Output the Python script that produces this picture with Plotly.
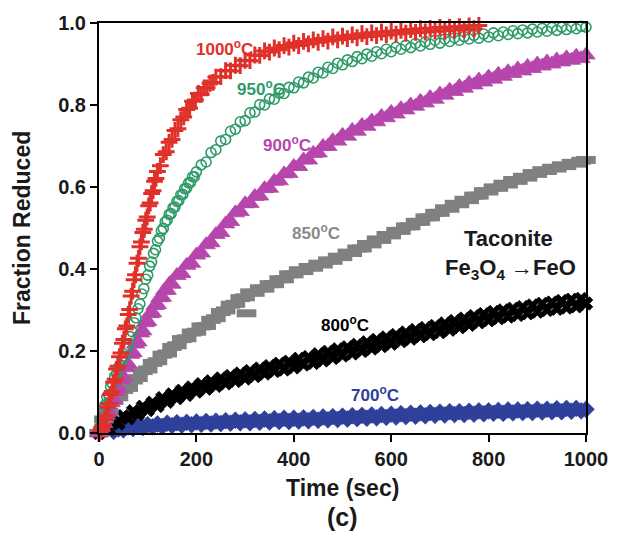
import plotly.graph_objects as go

# ---- data ----
t_1000 = list(range(0, 121, 3)) + list(range(126, 241, 6)) + list(range(250, 781, 10))
f_1000 = [0.000, 0.004, 0.012, 0.018, 0.033, 0.042, 0.063, 0.072, 0.094, 0.101,
          0.124, 0.131, 0.156, 0.163, 0.186, 0.195, 0.219, 0.228, 0.254, 0.261,
          0.289, 0.301, 0.334, 0.346, 0.374, 0.386, 0.414, 0.426, 0.454, 0.466,
          0.489, 0.497, 0.519, 0.527, 0.554, 0.561, 0.584, 0.591, 0.614, 0.621, 0.638,
          0.652, 0.679, 0.686, 0.709, 0.716, 0.738, 0.742, 0.764, 0.771, 0.789,
          0.792, 0.809, 0.812, 0.828, 0.826, 0.842, 0.842, 0.853, 0.855, 0.868,
          0.869, 0.884, 0.883, 0.897, 0.896, 0.909, 0.908, 0.922, 0.921, 0.932,
          0.929, 0.939, 0.935, 0.945, 0.941, 0.951, 0.945, 0.955, 0.949, 0.959,
          0.953, 0.962, 0.956, 0.966, 0.959, 0.968, 0.962, 0.971, 0.964, 0.974,
          0.967, 0.976, 0.969, 0.978, 0.971, 0.980, 0.973, 0.982, 0.975, 0.984,
          0.977, 0.986, 0.978, 0.987, 0.980, 0.989, 0.981, 0.990, 0.983, 0.991,
          0.984, 0.993, 0.986, 0.994]

t_950 = list(range(0, 201, 4)) + list(range(210, 1001, 10))
f_950 = [0.012, 0.033, 0.057, 0.068, 0.088, 0.094, 0.113, 0.119, 0.138, 0.144,
         0.161, 0.165, 0.181, 0.187, 0.206, 0.214, 0.235, 0.247, 0.269, 0.281,
         0.303, 0.315, 0.339, 0.352, 0.375, 0.385, 0.407, 0.417, 0.438, 0.447,
         0.468, 0.475, 0.493, 0.499, 0.515, 0.519, 0.533, 0.535, 0.549, 0.551,
         0.565, 0.567, 0.581, 0.582, 0.596, 0.597, 0.610, 0.611, 0.625, 0.625, 0.637,
         0.654, 0.661, 0.684, 0.691, 0.712, 0.716, 0.736, 0.741, 0.759, 0.762,
         0.781, 0.783, 0.801, 0.800, 0.815, 0.814, 0.829, 0.828, 0.843, 0.842,
         0.856, 0.854, 0.868, 0.866, 0.880, 0.878, 0.892, 0.889, 0.902, 0.898,
         0.910, 0.906, 0.918, 0.913, 0.924, 0.919, 0.930, 0.925, 0.936, 0.930,
         0.941, 0.936, 0.946, 0.940, 0.950, 0.944, 0.954, 0.948, 0.958, 0.951,
         0.961, 0.955, 0.964, 0.958, 0.967, 0.961, 0.970, 0.963, 0.973, 0.966,
         0.976, 0.969, 0.978, 0.972, 0.981, 0.974, 0.983, 0.976, 0.985, 0.978,
         0.987, 0.980, 0.989, 0.982, 0.990, 0.984, 0.991, 0.986, 0.992, 0.990]

t_900 = list(range(0, 151, 5)) + list(range(160, 1001, 10))
f_900 = [0.000, 0.014, 0.023, 0.043, 0.052, 0.074, 0.082, 0.101, 0.109, 0.130,
         0.137, 0.159, 0.168, 0.192, 0.196, 0.217, 0.222, 0.244, 0.249, 0.269,
         0.272, 0.291, 0.293, 0.311, 0.313, 0.330, 0.331, 0.348, 0.348, 0.364, 0.363,
         0.384, 0.389, 0.409, 0.414, 0.434, 0.439, 0.459, 0.464, 0.484, 0.489,
         0.510, 0.516, 0.537, 0.540, 0.559, 0.560, 0.577, 0.578, 0.596, 0.597,
         0.614, 0.615, 0.632, 0.633, 0.650, 0.650, 0.666, 0.666, 0.682, 0.683,
         0.699, 0.699, 0.713, 0.712, 0.726, 0.724, 0.738, 0.736, 0.750, 0.748,
         0.761, 0.759, 0.772, 0.769, 0.782, 0.778, 0.791, 0.788, 0.800, 0.797,
         0.809, 0.805, 0.818, 0.814, 0.827, 0.824, 0.836, 0.833, 0.845, 0.841,
         0.853, 0.849, 0.861, 0.856, 0.868, 0.863, 0.875, 0.870, 0.881, 0.877,
         0.888, 0.883, 0.894, 0.889, 0.900, 0.895, 0.905, 0.900, 0.910, 0.905,
         0.915, 0.909, 0.919, 0.913, 0.922]

t_850 = list(range(0, 1001, 10)) + [303]
f_850 = [0.000, 0.033, 0.052, 0.078, 0.087, 0.105, 0.110, 0.128, 0.134, 0.151,
         0.155, 0.171, 0.175, 0.191, 0.194, 0.210, 0.214, 0.229, 0.231, 0.245,
         0.247, 0.260, 0.261, 0.276, 0.280, 0.295, 0.299, 0.313, 0.315, 0.329,
         0.331, 0.343, 0.342, 0.353, 0.352, 0.363, 0.363, 0.375, 0.375, 0.387,
         0.387, 0.397, 0.395, 0.405, 0.403, 0.413, 0.411, 0.421, 0.420, 0.430,
         0.429, 0.440, 0.439, 0.450, 0.450, 0.461, 0.460, 0.472, 0.471, 0.483,
         0.482, 0.493, 0.493, 0.504, 0.504, 0.515, 0.515, 0.526, 0.526, 0.537,
         0.537, 0.548, 0.547, 0.559, 0.558, 0.569, 0.568, 0.579, 0.579, 0.590,
         0.589, 0.599, 0.598, 0.608, 0.606, 0.617, 0.615, 0.625, 0.623, 0.634,
         0.632, 0.641, 0.639, 0.647, 0.645, 0.653, 0.651, 0.659, 0.657, 0.664,
         0.666, 0.292]

t_800 = list(range(0, 1001, 10))
f_800 = [0.000, 0.008, 0.010, 0.026, 0.023, 0.041, 0.036, 0.053, 0.046, 0.064,
         0.056, 0.074, 0.066, 0.085, 0.076, 0.094, 0.085, 0.103, 0.093, 0.111,
         0.101, 0.119, 0.108, 0.126, 0.115, 0.133, 0.121, 0.139, 0.127, 0.145,
         0.133, 0.151, 0.139, 0.157, 0.145, 0.163, 0.151, 0.169, 0.155, 0.174,
         0.160, 0.181, 0.167, 0.185, 0.171, 0.192, 0.177, 0.198, 0.183, 0.204,
         0.189, 0.209, 0.194, 0.215, 0.200, 0.221, 0.206, 0.227, 0.212, 0.233,
         0.218, 0.239, 0.224, 0.245, 0.230, 0.251, 0.236, 0.256, 0.241, 0.261,
         0.246, 0.267, 0.252, 0.273, 0.258, 0.279, 0.264, 0.285, 0.270, 0.290,
         0.275, 0.295, 0.280, 0.299, 0.284, 0.303, 0.288, 0.307, 0.292, 0.311,
         0.296, 0.315, 0.300, 0.318, 0.303, 0.322, 0.306, 0.325, 0.309, 0.327,
         0.316]

t_700 = list(range(30, 1001, 10))
f_700 = [0.004, 0.010, 0.008, 0.015, 0.011, 0.018, 0.013, 0.020, 0.015, 0.022,
         0.016, 0.024, 0.018, 0.025, 0.019, 0.026, 0.020, 0.027, 0.021, 0.028,
         0.022, 0.029, 0.023, 0.030, 0.024, 0.031, 0.025, 0.032, 0.025, 0.033,
         0.026, 0.034, 0.027, 0.035, 0.028, 0.036, 0.028, 0.036, 0.029, 0.037,
         0.030, 0.038, 0.031, 0.039, 0.032, 0.040, 0.033, 0.041, 0.034, 0.042,
         0.035, 0.043, 0.036, 0.044, 0.037, 0.045, 0.038, 0.046, 0.039, 0.047,
         0.040, 0.048, 0.041, 0.049, 0.042, 0.050, 0.043, 0.051, 0.044, 0.052,
         0.045, 0.052, 0.045, 0.053, 0.046, 0.054, 0.047, 0.054, 0.048, 0.055,
         0.048, 0.056, 0.049, 0.056, 0.050, 0.057, 0.050, 0.058, 0.051, 0.058,
         0.052, 0.059, 0.052, 0.060, 0.053, 0.060, 0.054, 0.058]

x_ticks = [0, 200, 400, 600, 800, 1000]
y_ticks = [0.0, 0.2, 0.4, 0.6, 0.8, 1.0]

C_RED = "#E0302A"
C_GREEN = "#2E9A68"
C_MAG = "#B646AC"
C_GRAY = "#808080"
C_BLACK = "#000000"
C_BLUE = "#2E409A"

FONT = "Liberation Sans, Arial, sans-serif"

fig = go.Figure()
fig.add_trace(go.Scatter(x=t_700, y=f_700, mode="markers", cliponaxis=False,
                         marker=dict(symbol="diamond", size=13, color=C_BLUE,
                                     line=dict(width=0.6, color=C_BLUE))))
fig.add_trace(go.Scatter(x=t_800, y=f_800, mode="markers", cliponaxis=False,
                         marker=dict(symbol="x", size=12, color=C_BLACK,
                                     line=dict(width=0.8, color=C_BLACK))))
fig.add_trace(go.Scatter(x=t_850, y=f_850, mode="markers", cliponaxis=False,
                         marker=dict(symbol="line-ew", size=14, color=C_GRAY,
                                     line=dict(width=8, color=C_GRAY))))
fig.add_trace(go.Scatter(x=t_900, y=f_900, mode="markers", cliponaxis=False,
                         marker=dict(symbol="triangle-up", size=16, color=C_MAG,
                                     line=dict(width=0.8, color=C_MAG))))
fig.add_trace(go.Scatter(x=t_950, y=f_950, mode="markers", cliponaxis=False,
                         marker=dict(symbol="circle-open", size=10, color=C_GREEN,
                                     line=dict(width=1.6, color=C_GREEN))))
fig.add_trace(go.Scatter(x=t_1000, y=f_1000, mode="markers", cliponaxis=False,
                         marker=dict(symbol="cross-thin", size=12, color=C_RED,
                                     line=dict(width=3, color=C_RED))))

labels = [
    ("1000<sup>o</sup>C", 258, 0.938, C_RED),
    ("950<sup>o</sup>C", 333, 0.842, C_GREEN),
    ("900<sup>o</sup>C", 387, 0.706, C_MAG),
    ("850<sup>o</sup>C", 445, 0.490, "#8A8A8A"),
    ("800<sup>o</sup>C", 506, 0.266, C_BLACK),
    ("700<sup>o</sup>C", 566, 0.094, C_BLUE),
]
for txt, x, y, c in labels:
    fig.add_annotation(x=x, y=y, xref="x", yref="y", text=txt, showarrow=False,
                       font=dict(family=FONT, size=17, color=c, weight="bold"))

fig.add_annotation(x=841, y=0.474, xref="x", yref="y", text="Taconite", showarrow=False,
                   font=dict(family=FONT, size=22, color="#1a1a1a", weight="bold"))
fig.add_annotation(x=845, y=0.399, xref="x", yref="y",
                   text="Fe<sub>3</sub>O<sub>4</sub> \u2192FeO", showarrow=False,
                   font=dict(family=FONT, size=22, color="#1a1a1a", weight="bold"))

# axis titles and panel label
fig.add_annotation(x=0.5, y=0, xref="paper", yref="paper", yanchor="middle",
                   yshift=-55, text="Time (sec)", showarrow=False,
                   font=dict(family=FONT, size=23, color="#1a1a1a", weight="bold"))
fig.add_annotation(x=0.5, y=0, xref="paper", yref="paper", yanchor="middle",
                   yshift=-84, text="(c)", showarrow=False,
                   font=dict(family=FONT, size=25, color="#1a1a1a", weight="bold"))
fig.add_annotation(x=0, y=0.5, xref="paper", yref="paper", xanchor="center",
                   xshift=-77, text="Fraction Reduced", textangle=-90, showarrow=False,
                   font=dict(family=FONT, size=23, color="#1a1a1a", weight="bold"))

axis_common = dict(showline=True, linecolor="black", linewidth=2, mirror=True,
                   ticks="outside", ticklen=7, tickwidth=2, tickcolor="black",
                   showgrid=False, zeroline=False,
                   tickfont=dict(family=FONT, size=20, color="#1a1a1a", weight="bold"))

fig.update_layout(
    width=620, height=537,
    margin=dict(l=99, r=27, t=17, b=104),
    paper_bgcolor="white", plot_bgcolor="white",
    showlegend=False,
    xaxis=dict(range=[0, 1000], tickvals=x_ticks,
               ticktext=[str(v) for v in x_ticks], **axis_common),
    yaxis=dict(range=[0, 1.0], tickvals=y_ticks,
               ticktext=[f"{v:.1f}" for v in y_ticks], **axis_common),
)

fig.write_html("out.html")
